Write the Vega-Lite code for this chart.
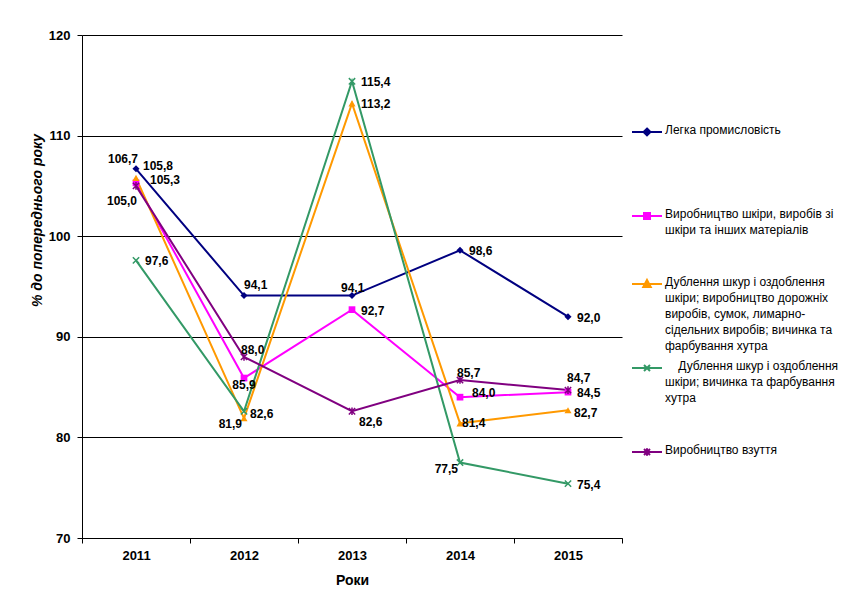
{
  "$schema": "https://vega.github.io/schema/vega-lite/v6.json",
  "width": 540,
  "height": 503,
  "autosize": "none",
  "padding": {"left": 82, "top": 35, "right": 223, "bottom": 68},
  "background": "white",
  "config": {
    "font": "Liberation Sans",
    "locale": {"number": {"decimal": ",", "thousands": " ", "grouping": [3], "currency": ["", ""]}},
    "view": {"stroke": null}
  },
  "data": {
    "values": [
      {"year": "2011", "series": "Легка промисловість", "value": 106.7},
      {"year": "2012", "series": "Легка промисловість", "value": 94.1},
      {"year": "2013", "series": "Легка промисловість", "value": 94.1},
      {"year": "2014", "series": "Легка промисловість", "value": 98.6},
      {"year": "2015", "series": "Легка промисловість", "value": 92.0},
      {"year": "2011", "series": "Виробництво шкіри, виробів зі шкіри та інших матеріалів", "value": 105.3},
      {"year": "2012", "series": "Виробництво шкіри, виробів зі шкіри та інших матеріалів", "value": 85.9},
      {"year": "2013", "series": "Виробництво шкіри, виробів зі шкіри та інших матеріалів", "value": 92.7},
      {"year": "2014", "series": "Виробництво шкіри, виробів зі шкіри та інших матеріалів", "value": 84.0},
      {"year": "2015", "series": "Виробництво шкіри, виробів зі шкіри та інших матеріалів", "value": 84.5},
      {"year": "2011", "series": "Дублення шкур і оздоблення шкіри; виробництво дорожніх виробів, сумок, лимарно-сідельних виробів; вичинка та фарбування хутра", "value": 105.8},
      {"year": "2012", "series": "Дублення шкур і оздоблення шкіри; виробництво дорожніх виробів, сумок, лимарно-сідельних виробів; вичинка та фарбування хутра", "value": 81.9},
      {"year": "2013", "series": "Дублення шкур і оздоблення шкіри; виробництво дорожніх виробів, сумок, лимарно-сідельних виробів; вичинка та фарбування хутра", "value": 113.2},
      {"year": "2014", "series": "Дублення шкур і оздоблення шкіри; виробництво дорожніх виробів, сумок, лимарно-сідельних виробів; вичинка та фарбування хутра", "value": 81.4},
      {"year": "2015", "series": "Дублення шкур і оздоблення шкіри; виробництво дорожніх виробів, сумок, лимарно-сідельних виробів; вичинка та фарбування хутра", "value": 82.7},
      {"year": "2011", "series": "Дублення шкур і оздоблення шкіри; вичинка та фарбування хутра", "value": 97.6},
      {"year": "2012", "series": "Дублення шкур і оздоблення шкіри; вичинка та фарбування хутра", "value": 82.6},
      {"year": "2013", "series": "Дублення шкур і оздоблення шкіри; вичинка та фарбування хутра", "value": 115.4},
      {"year": "2014", "series": "Дублення шкур і оздоблення шкіри; вичинка та фарбування хутра", "value": 77.5},
      {"year": "2015", "series": "Дублення шкур і оздоблення шкіри; вичинка та фарбування хутра", "value": 75.4},
      {"year": "2011", "series": "Виробництво взуття", "value": 105.0},
      {"year": "2012", "series": "Виробництво взуття", "value": 88.0},
      {"year": "2013", "series": "Виробництво взуття", "value": 82.6},
      {"year": "2014", "series": "Виробництво взуття", "value": 85.7},
      {"year": "2015", "series": "Виробництво взуття", "value": 84.7}
    ]
  },
  "encoding": {
    "x": {
      "field": "year", "type": "ordinal",
      "scale": {"type": "band", "paddingInner": 0, "paddingOuter": 0},
      "axis": {
        "title": "Роки", "titleFontSize": 14, "titleFontWeight": "bold", "titleColor": "black", "titlePadding": 11,
        "labelAngle": 0, "labelFontSize": 13, "labelFontWeight": "bold", "labelColor": "black", "labelPadding": 6,
        "tickBand": "extent", "tickSize": 5, "tickColor": "black", "domainColor": "black", "grid": false
      }
    },
    "y": {
      "field": "value", "type": "quantitative",
      "scale": {"domain": [70, 120], "nice": false, "zero": false},
      "axis": {
        "values": [70, 80, 90, 100, 110, 120],
        "title": "% до попереднього року", "titleFontSize": 14, "titleFontWeight": "bold", "titleFontStyle": "italic", "titleColor": "black",
        "titleX": -45, "titleY": 185, "titleBaseline": "middle", "titleAngle": -90,
        "labelFontSize": 13, "labelFontWeight": "bold", "labelColor": "black", "labelPadding": 7,
        "tickSize": 5, "tickColor": "black", "domainColor": "black",
        "grid": true, "gridColor": "black", "gridWidth": 1, "gridOpacity": 1
      }
    }
  },
  "layer": [
    {
      "mark": {"type": "line", "strokeWidth": 2},
      "encoding": {
        "color": {
          "field": "series", "type": "nominal",
          "scale": {
            "domain": ["Легка промисловість", "Виробництво шкіри, виробів зі шкіри та інших матеріалів", "Дублення шкур і оздоблення шкіри; виробництво дорожніх виробів, сумок, лимарно-сідельних виробів; вичинка та фарбування хутра", "Дублення шкур і оздоблення шкіри; вичинка та фарбування хутра", "Виробництво взуття"],
            "range": ["#000080", "#FF00FF", "#FF9900", "#339966", "#800080"]
          },
          "legend": {
            "orient": "none", "legendX": 549, "legendY": 81, "title": null,
            "symbolSize": 900, "labelFontSize": 12, "labelColor": "black", "labelLimit": 300, "labelOffset": 2,
            "rowPadding": 0, "labelBaseline": "top",
            "labelExpr": "datum.label == 'Легка промисловість' ? ['Легка промисловість', '', '', '', ''] : datum.label == 'Виробництво шкіри, виробів зі шкіри та інших матеріалів' ? ['Виробництво шкіри, виробів зі', 'шкіри та інших матеріалів', '', ''] : datum.label == 'Дублення шкур і оздоблення шкіри; виробництво дорожніх виробів, сумок, лимарно-сідельних виробів; вичинка та фарбування хутра' ? ['Дублення шкур і оздоблення', 'шкіри; виробництво дорожніх', 'виробів, сумок, лимарно-', 'сідельних виробів; вичинка та', 'фарбування хутра'] : datum.label == 'Дублення шкур і оздоблення шкіри; вичинка та фарбування хутра' ? ['\u200b\u00a0\u00a0\u00a0\u00a0Дублення шкур і оздоблення', 'шкіри; вичинка та фарбування', 'хутра', '', ''] : datum.label",
            "encode": {
              "symbols": {
                "update": {
                  "shape": {"signal": "datum.value == 'Легка промисловість' ? 'M-1,0H1M0,-0.23L0.23,0L0,0.23L-0.23,0Z' : datum.value == 'Виробництво взуття' ? 'M-1,0H1M-0.2,-0.2L0.2,0.2M-0.2,0.2L0.2,-0.2M0,-0.25V0.25' : datum.value == 'Виробництво шкіри, виробів зі шкіри та інших матеріалів' ? 'M-1,0H1M-0.2,-0.2H0.2V0.2H-0.2Z' : datum.value == 'Дублення шкур і оздоблення шкіри; вичинка та фарбування хутра' ? 'M-1,0H1M-0.2,-0.2L0.2,0.2M-0.2,0.2L0.2,-0.2' : 'M-1,0H1M0,-0.27L0.25,0.2H-0.25Z'"},
                  "fill": {"signal": "scale('color', datum.value)"},
                  "stroke": {"signal": "scale('color', datum.value)"},
                  "strokeWidth": {"value": 2},
                  "opacity": {"value": 1}
                }
              },
              "labels": {"update": {"dy": {"value": -7}, "lineHeight": {"value": 16}}}
            }
          }
        }
      }
    },
    {
      "transform": [{"filter": "datum.series == 'Легка промисловість'"}],
      "mark": {"type": "point", "shape": "diamond", "filled": true, "size": 50, "color": "#000080", "opacity": 1}
    },
    {
      "transform": [{"filter": "datum.series == 'Виробництво шкіри, виробів зі шкіри та інших матеріалів'"}],
      "mark": {"type": "point", "shape": "square", "filled": true, "size": 45, "color": "#FF00FF", "opacity": 1}
    },
    {
      "transform": [{"filter": "datum.series == 'Дублення шкур і оздоблення шкіри; виробництво дорожніх виробів, сумок, лимарно-сідельних виробів; вичинка та фарбування хутра'"}],
      "mark": {"type": "point", "shape": "triangle-up", "filled": true, "size": 50, "color": "#FF9900", "opacity": 1}
    },
    {
      "transform": [{"filter": "datum.series == 'Дублення шкур і оздоблення шкіри; вичинка та фарбування хутра'"}],
      "mark": {"type": "point", "shape": "M-1,-1L1,1M-1,1L1,-1", "filled": false, "size": 40, "color": "#339966", "strokeWidth": 1.5, "opacity": 1}
    },
    {
      "transform": [{"filter": "datum.series == 'Виробництво взуття'"}],
      "mark": {"type": "point", "shape": "M-1,-1L1,1M-1,1L1,-1M0,-1.2V1.2", "filled": false, "size": 40, "color": "#800080", "strokeWidth": 1.5, "opacity": 1}
    },
    {
      "transform": [{"filter": "(datum.year=='2011'&&datum.value==97.6)||(datum.year=='2013'&&(datum.value==115.4||datum.value==113.2||datum.value==92.7))||(datum.year=='2014'&&datum.value==98.6)||(datum.year=='2015'&&(datum.value==92.0||datum.value==84.5||datum.value==75.4))"}],
      "mark": {"type": "text", "fontSize": 12, "fontWeight": "bold", "color": "black", "align": "left", "baseline": "middle", "dx": 9, "dy": 1},
      "encoding": {"text": {"field": "value", "type": "quantitative", "format": ".1f"}}
    },
    {
      "transform": [{"filter": "(datum.year=='2012'&&datum.value==82.6)||(datum.year=='2015'&&datum.value==82.7)"}],
      "mark": {"type": "text", "fontSize": 12, "fontWeight": "bold", "color": "black", "align": "left", "baseline": "middle", "dx": 6, "dy": 3},
      "encoding": {"text": {"field": "value", "type": "quantitative", "format": ".1f"}}
    },
    {
      "transform": [{"filter": "datum.year=='2013'&&datum.value==82.6"}],
      "mark": {"type": "text", "fontSize": 12, "fontWeight": "bold", "color": "black", "align": "left", "baseline": "middle", "dx": 7, "dy": 11},
      "encoding": {"text": {"field": "value", "type": "quantitative", "format": ".1f"}}
    },
    {
      "transform": [{"filter": "datum.year=='2014'&&datum.value==84.0"}],
      "mark": {"type": "text", "fontSize": 12, "fontWeight": "bold", "color": "black", "align": "left", "baseline": "middle", "dx": 12, "dy": -4},
      "encoding": {"text": {"field": "value", "type": "quantitative", "format": ".1f"}}
    },
    {
      "transform": [{"filter": "datum.year=='2014'&&datum.value==81.4"}],
      "mark": {"type": "text", "fontSize": 12, "fontWeight": "bold", "color": "black", "align": "left", "baseline": "middle", "dx": 2, "dy": 0},
      "encoding": {"text": {"field": "value", "type": "quantitative", "format": ".1f"}}
    },
    {
      "transform": [{"filter": "(datum.year=='2014'&&datum.value==85.7)||(datum.year=='2012'&&datum.value==88.0)"}],
      "mark": {"type": "text", "fontSize": 12, "fontWeight": "bold", "color": "black", "align": "left", "baseline": "middle", "dx": -3, "dy": -7},
      "encoding": {"text": {"field": "value", "type": "quantitative", "format": ".1f"}}
    },
    {
      "transform": [{"filter": "datum.year=='2015'&&datum.value==84.7"}],
      "mark": {"type": "text", "fontSize": 12, "fontWeight": "bold", "color": "black", "align": "left", "baseline": "middle", "dx": -1, "dy": -12},
      "encoding": {"text": {"field": "value", "type": "quantitative", "format": ".1f"}}
    },
    {
      "transform": [{"filter": "(datum.year=='2014'&&datum.value==77.5)||(datum.year=='2012'&&datum.value==81.9)"}],
      "mark": {"type": "text", "fontSize": 12, "fontWeight": "bold", "color": "black", "align": "right", "baseline": "middle", "dx": -2, "dy": 6},
      "encoding": {"text": {"field": "value", "type": "quantitative", "format": ".1f"}}
    },
    {
      "transform": [{"filter": "datum.year=='2012'&&datum.value==85.9"}],
      "mark": {"type": "text", "fontSize": 12, "fontWeight": "bold", "color": "black", "align": "center", "baseline": "middle", "dx": 0, "dy": 7},
      "encoding": {"text": {"field": "value", "type": "quantitative", "format": ".1f"}}
    },
    {
      "transform": [{"filter": "datum.year=='2012'&&datum.value==94.1"}],
      "mark": {"type": "text", "fontSize": 12, "fontWeight": "bold", "color": "black", "align": "left", "baseline": "middle", "dx": 0, "dy": -11},
      "encoding": {"text": {"field": "value", "type": "quantitative", "format": ".1f"}}
    },
    {
      "transform": [{"filter": "datum.year=='2013'&&datum.value==94.1"}],
      "mark": {"type": "text", "fontSize": 12, "fontWeight": "bold", "color": "black", "align": "left", "baseline": "middle", "dx": -11, "dy": -8},
      "encoding": {"text": {"field": "value", "type": "quantitative", "format": ".1f"}}
    },
    {
      "transform": [{"filter": "datum.year=='2011'&&datum.value==106.7"}],
      "mark": {"type": "text", "fontSize": 12, "fontWeight": "bold", "color": "black", "align": "right", "baseline": "middle", "dx": 2, "dy": -10},
      "encoding": {"text": {"field": "value", "type": "quantitative", "format": ".1f"}}
    },
    {
      "transform": [{"filter": "datum.year=='2011'&&datum.value==105.8"}],
      "mark": {"type": "text", "fontSize": 12, "fontWeight": "bold", "color": "black", "align": "left", "baseline": "middle", "dx": 7, "dy": -12},
      "encoding": {"text": {"field": "value", "type": "quantitative", "format": ".1f"}}
    },
    {
      "transform": [{"filter": "datum.year=='2011'&&datum.value==105.3"}],
      "mark": {"type": "text", "fontSize": 12, "fontWeight": "bold", "color": "black", "align": "left", "baseline": "middle", "dx": 14, "dy": -3},
      "encoding": {"text": {"field": "value", "type": "quantitative", "format": ".1f"}}
    },
    {
      "transform": [{"filter": "datum.year=='2011'&&datum.value==105.0"}],
      "mark": {"type": "text", "fontSize": 12, "fontWeight": "bold", "color": "black", "align": "right", "baseline": "middle", "dx": 1, "dy": 15},
      "encoding": {"text": {"field": "value", "type": "quantitative", "format": ".1f"}}
    }
  ]
}
